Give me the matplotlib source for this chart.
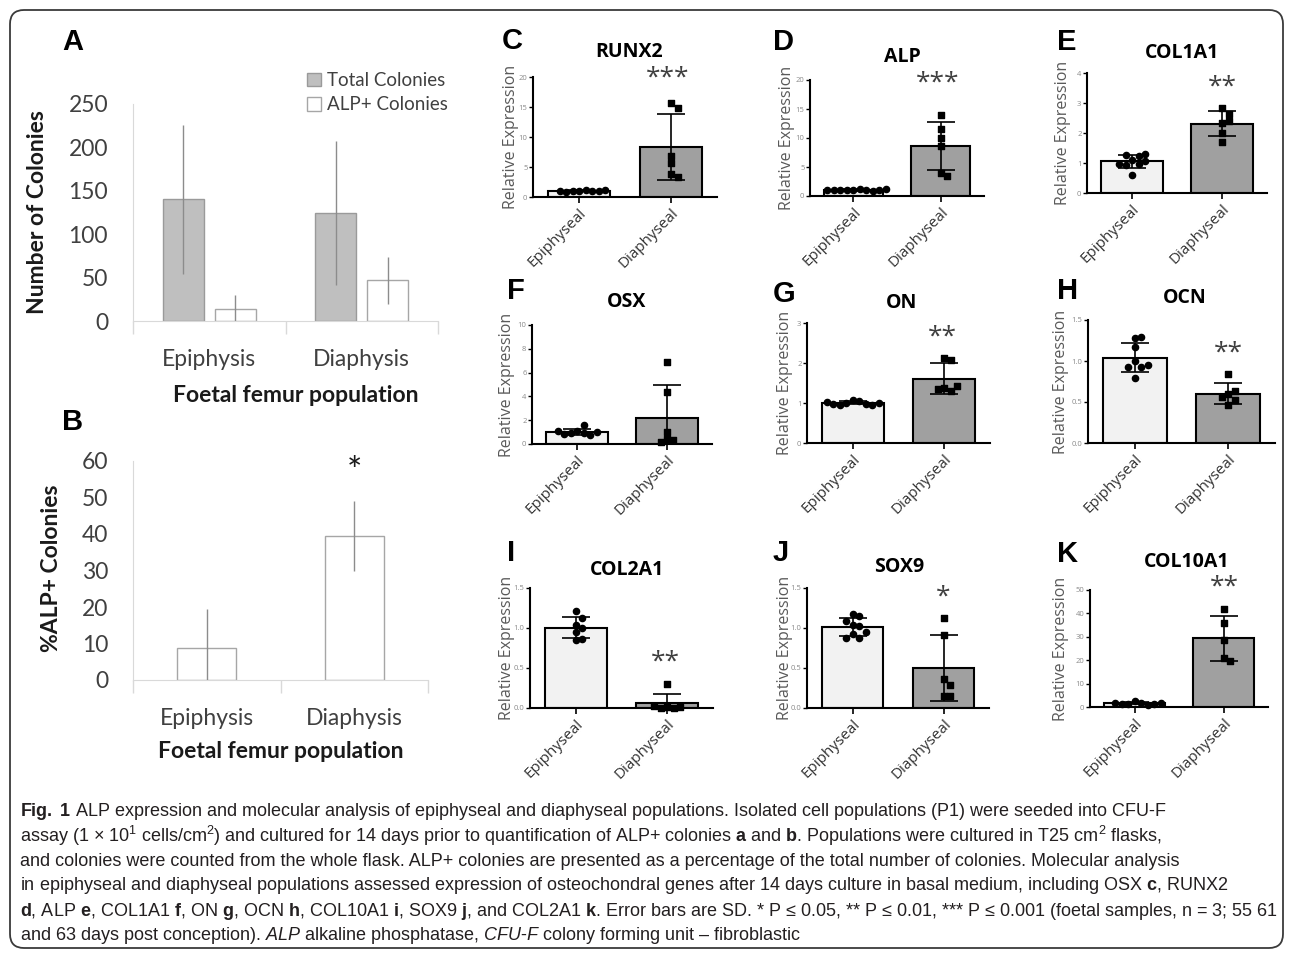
import numpy as np
import matplotlib
matplotlib.use("Agg")
import matplotlib.pyplot as plt
from matplotlib import font_manager
from matplotlib.patches import Patch, FancyBboxPatch
from matplotlib.transforms import IdentityTransform

# ---- data: colony counts (panels A, B) ----
groups = ["Epiphysis", "Diaphysis"]
total_colonies = [140, 124]
total_sd = [86, 83]
alp_colonies = [14, 47]
alp_sd = [16, 27]
pct_alp = [8.7, 39.5]
pct_sd = [10.8, 9.5]

# ---- data: qPCR relative expression (panels C-K), one value per sample ----
runx2_epi = [1.05, 1.1, 1.0, 0.95, 0.9, 1.0, 1.05, 1.15]
runx2_dia = [15.7, 14.8, 6.8, 5.7, 3.8, 3.3]
alp_epi = [1.1, 1.15, 1.05, 1.0, 0.95, 0.85, 0.95, 1.05, 1.1, 1.15]
alp_dia = [14.0, 11.6, 10.0, 8.6, 4.0, 3.4]
col1a1_epi = [1.09, 1.22, 1.28, 1.30, 1.08, 0.98, 0.92, 0.98, 0.61]
col1a1_dia = [2.82, 2.63, 2.33, 2.39, 2.0, 1.69]
osx_epi = [1.1, 0.93, 0.95, 1.56, 0.73, 0.87, 1.03, 1.1]
osx_dia = [6.87, 4.36, 1.0, 0.45, 0.31, 0.14]
on_epi = [1.07, 1.04, 1.01, 0.98, 0.96, 0.96, 0.97, 1.0, 1.03]
on_dia = [2.13, 2.07, 1.38, 1.31, 1.34, 1.42]
ocn_epi = [1.28, 1.29, 1.17, 1.0, 0.93, 0.93, 0.95, 0.79]
ocn_dia = [0.84, 0.60, 0.63, 0.56, 0.46, 0.53]
col2a1_epi = [1.21, 1.04, 1.12, 1.0, 0.95, 0.85, 0.86]
col2a1_dia = [0.30, 0.01, 0.005, 0.005, 0.01, 0.02]
sox9_epi = [1.17, 1.15, 1.09, 1.04, 1.03, 0.92, 0.88, 0.87, 0.95]
sox9_dia = [1.12, 0.91, 0.36, 0.29, 0.15, 0.15]
col10a1_epi = [2.4, 1.6, 1.3, 1.0, 1.2, 1.4, 1.5, 1.9]
col10a1_dia = [41.8, 36.1, 28.7, 20.9, 19.5]

genes = ["RUNX2", "ALP", "COL1A1", "OSX", "ON", "OCN", "COL2A1", "SOX9", "COL10A1"]
letters = ["C", "D", "E", "F", "G", "H", "I", "J", "K"]
stars = ["***", "***", "**", "", "**", "**", "**", "*", "**"]
y_max = [20, 20, 4, 10, 3, 1.5, 1.5, 1.5, 50]
y_step = [5, 5, 1, 2, 1, 0.5, 0.5, 0.5, 10]
tissue = ["Epiphyseal", "Diaphyseal"]
epi_all = [runx2_epi, alp_epi, col1a1_epi, osx_epi, on_epi, ocn_epi, col2a1_epi, sox9_epi, col10a1_epi]
dia_all = [runx2_dia, alp_dia, col1a1_dia, osx_dia, on_dia, ocn_dia, col2a1_dia, sox9_dia, col10a1_dia]

caption = [
    r"$\mathbf{Fig.\ 1}$ ALP expression and molecular analysis of epiphyseal and diaphyseal populations. Isolated cell populations (P1) were seeded into CFU-F",
    r"assay (1 × 10$^1$ cells/cm$^2$) and cultured for 14 days prior to quantification of ALP+ colonies $\mathbf{a}$ and $\mathbf{b}$. Populations were cultured in T25 cm$^2$ flasks,",
    "and colonies were counted from the whole flask. ALP+ colonies are presented as a percentage of the total number of colonies. Molecular analysis",
    r"in epiphyseal and diaphyseal populations assessed expression of osteochondral genes after 14 days culture in basal medium, including OSX $\mathbf{c}$, RUNX2",
    r"$\mathbf{d}$, ALP $\mathbf{e}$, COL1A1 $\mathbf{f}$, ON $\mathbf{g}$, OCN $\mathbf{h}$, COL10A1 $\mathbf{i}$, SOX9 $\mathbf{j}$, and COL2A1 $\mathbf{k}$. Error bars are SD. * P ≤ 0.05, ** P ≤ 0.01, *** P ≤ 0.001 (foetal samples, n = 3; 55 61",
    r"and 63 days post conception). $\mathit{ALP}$ alkaline phosphatase, $\mathit{CFU}$-$\mathit{F}$ colony forming unit – fibroblastic",
]
cap_width = [1202, 1250, 1252, 1254, 1252, 810]   # line lengths in the reference, pixels

# ---- layout (pixel positions in the 1293x956 picture) ----
W, H = 1293, 956
rects = [(533, 77, 717, 197), (810, 80, 984, 196), (1087, 73, 1267, 193),
         (532, 325, 712, 444), (807, 323, 990, 443), (1088, 320, 1275, 443),
         (530, 588, 713, 708), (807, 588, 989, 708), (1090, 590, 1268, 707)]
title_pos = [(629, 52), (902, 57), (1182, 53), (627, 302), (902, 303), (1185, 298),
             (627, 570), (899, 567), (1187, 562)]
letter_pos = [(502, 41), (773, 42), (1057, 42), (507, 291), (773, 294), (1057, 291),
              (507, 553), (773, 553), (1057, 554)]
star_pos = [(668, 73), (938, 78), (1222, 82), None, (942, 332), (1228, 348),
            (665, 657), (943, 592), (1224, 582)]
ylab_x = [511, 787, 1063, 507, 785, 1061, 507, 785, 1061]

names = {f.name for f in font_manager.fontManager.ttflist}
cap_font = "Liberation Sans Narrow" if "Liberation Sans Narrow" in names else "Liberation Sans"

plt.rcParams["font.family"] = ["Open Sans", "DejaVu Sans"]
plt.rcParams["mathtext.fontset"] = "custom"
plt.rcParams["mathtext.rm"] = cap_font
plt.rcParams["mathtext.bf"] = cap_font + ":bold"
plt.rcParams["mathtext.it"] = cap_font + ":italic"
plt.rcParams["mathtext.default"] = "regular"


def box(l, t, r, b):
    return [l / W, 1 - b / H, (r - l) / W, (b - t) / H]


def fx(x):
    return x / W


def fy(y):
    return 1 - y / H


def swarm(vals, sy, d):
    # spread points sideways (in pixels) so the dots do not overlap
    placed, offs = [], []
    for v in vals:
        y = v * sy
        for k in range(40):
            off = ((k + 1) // 2) * d * (1 if k % 2 else -1) if k else 0.0
            if all((off - px) ** 2 + (y - py) ** 2 >= d * d for px, py in placed):
                break
        placed.append((off, y))
        offs.append(off)
    return np.array(offs)


fig = plt.figure(figsize=(W / 100, H / 100), dpi=100)

# frame around the figure
frame = FancyBboxPatch((10, 8), 1273, 938, boxstyle="round,pad=0,rounding_size=14",
                       transform=IdentityTransform(), fc="none", ec="#3a3a3a", lw=1.3)
fig.patches.append(frame)

excel_grey = "#d9d9d9"
txt_grey = "#404040"


def excel_axes(ax, ymax, ystep):
    ax.set_xlim(-0.5, 1.5)
    ax.set_ylim(0, ymax)
    ax.set_yticks(np.arange(0, ymax + 1, ystep))
    ax.set_xticks([0, 1], groups)
    ax.set_xticks([-0.5, 0.5, 1.5], minor=True)
    for s in ["top", "right"]:
        ax.spines[s].set_visible(False)
    for s in ["left", "bottom"]:
        ax.spines[s].set_color(excel_grey)
    ax.tick_params(axis="x", which="major", length=0, pad=20, labelsize=16.5,
                   labelcolor=txt_grey, labelfontfamily="Lato")
    ax.tick_params(axis="x", which="minor", length=9, color=excel_grey, width=1)
    ax.tick_params(axis="y", length=0, pad=18, labelsize=16.5,
                   labelcolor=txt_grey, labelfontfamily="Lato")


# ---- panel A ----
x = np.arange(2)
axA = fig.add_axes(box(133, 104, 438, 321))
axA.bar(x - 0.17, total_colonies, 0.27, color="#bfbfbf", edgecolor="#9a9a9a", lw=1, zorder=2)
axA.bar(x + 0.17, alp_colonies, 0.27, color="white", edgecolor="#a6a6a6", lw=1, zorder=2)
axA.errorbar(x - 0.17, total_colonies, yerr=total_sd, fmt="none", ecolor="#8c8c8c", elinewidth=1, zorder=3)
axA.errorbar(x + 0.17, alp_colonies, yerr=alp_sd, fmt="none", ecolor="#8c8c8c", elinewidth=1, zorder=3)
excel_axes(axA, 250, 50)
fig.text(fx(38), fy(212), "Number of Colonies", rotation=90, ha="center", va="center",
         fontsize=16.5, fontweight="bold", family="Lato", color="#1a1a1a")
fig.text(fx(296), fy(395), "Foetal femur population", ha="center", va="center",
         fontsize=16.5, fontweight="bold", family="Lato", color="#1a1a1a")
handles = [Patch(fc="#bfbfbf", ec="#9a9a9a", label="Total Colonies"),
           Patch(fc="white", ec="#a6a6a6", label="ALP+ Colonies")]
fig.legend(handles=handles, loc="upper left", bbox_to_anchor=(fx(307), fy(72)), frameon=False,
           prop={"family": "Lato", "size": 13.5}, labelcolor=txt_grey, handlelength=0.75,
           handleheight=0.75, handletextpad=0.3, labelspacing=0.4, borderpad=0, borderaxespad=0)

# ---- panel B ----
axB = fig.add_axes(box(133, 461, 428, 680))
axB.bar(x, pct_alp, 0.4, color="white", edgecolor="#a6a6a6", lw=1, zorder=2)
axB.errorbar(x, pct_alp, yerr=pct_sd, fmt="none", ecolor="#8c8c8c", elinewidth=1, zorder=3)
excel_axes(axB, 60, 10)
fig.text(fx(52), fy(568), "%ALP+ Colonies", rotation=90, ha="center", va="center",
         fontsize=16.5, fontweight="bold", family="Lato", color="#1a1a1a")
fig.text(fx(281), fy(751), "Foetal femur population", ha="center", va="center",
         fontsize=16.5, fontweight="bold", family="Lato", color="#1a1a1a")
fig.text(fx(354), fy(472), "*", ha="center", va="center", fontsize=26, family="Lato", color="#1a1a1a")

for lab, (lx, ly) in zip(["A", "B"], [(62, 42), (62, 422)]):
    fig.text(fx(lx), fy(ly), lab, fontsize=21, fontweight="bold", family="Liberation Sans",
             ha="left", va="center")

# ---- panels C-K ----
for i in range(9):
    l, t, r, b = rects[i]
    ax = fig.add_axes(box(l, t, r, b))
    epi, dia = epi_all[i], dia_all[i]
    sx = (r - l) / 2.0
    sy = (b - t) / y_max[i]
    means = [np.mean(epi), np.mean(dia)]
    sds = [np.std(epi, ddof=1), np.std(dia, ddof=1)]
    ax.bar([0, 1], means, 0.68, color=["#f2f2f2", "#a0a0a0"], edgecolor="black", lw=1.5, zorder=2)
    ax.errorbar([0, 1], means, yerr=sds, fmt="none", ecolor="black", elinewidth=1.2,
                capsize=10, capthick=1.2, zorder=3)
    ax.scatter(0 + swarm(epi, sy, 6.5) / sx, epi, marker="o", s=20, color="black", zorder=4, clip_on=False)
    ax.scatter(1 + swarm(dia, sy, 6.5) / sx, dia, marker="s", s=18, color="black", zorder=4, clip_on=False)

    ax.set_xlim(-0.5, 1.5)
    ax.set_ylim(0, y_max[i])
    ticks = np.arange(0, y_max[i] + y_step[i] / 2, y_step[i])
    fmt = "{:.1f}" if y_step[i] < 1 else "{:g}"
    ax.set_yticks(ticks, [fmt.format(v) for v in ticks])
    ax.set_xticks([0, 1], tissue)
    for s in ["top", "right"]:
        ax.spines[s].set_visible(False)
    for s in ["left", "bottom"]:
        ax.spines[s].set_linewidth(1.5)
    ax.tick_params(axis="y", length=3, width=1, pad=1, labelsize=5.5, labelcolor="#8a8a8a")
    ax.tick_params(axis="x", length=4, width=1.2, pad=2, labelsize=11, labelcolor="#333333")
    plt.setp(ax.get_xticklabels(), rotation=45, ha="right", rotation_mode="anchor")

    fig.text(fx(ylab_x[i]), fy((t + b) / 2), "Relative Expression", rotation=90, ha="center",
             va="center", fontsize=11.5, color="#595959")
    fig.text(fx(title_pos[i][0]), fy(title_pos[i][1]), genes[i], ha="center", va="center",
             fontsize=14, fontweight="bold")
    fig.text(fx(letter_pos[i][0]), fy(letter_pos[i][1]), letters[i], fontsize=21, fontweight="bold",
             family="Liberation Sans", ha="left", va="center")
    if star_pos[i]:
        fig.text(fx(star_pos[i][0]), fy(star_pos[i][1] + 5), stars[i], ha="center", va="center",
                 fontsize=19, color=txt_grey)

# ---- caption ----
cap_texts = []
for k, line in enumerate(caption):
    cap_texts.append(fig.text(fx(20), fy(811 + 25 * k), line, ha="left", va="center", fontsize=12,
                              family=[cap_font, "DejaVu Sans"], color="#231f20"))
rend = fig.canvas.get_renderer()
scale = min(w / t.get_window_extent(rend).width for w, t in zip(cap_width, cap_texts))
for t in cap_texts:
    t.set_fontsize(12 * scale)

fig.savefig("out.png", dpi=100)
